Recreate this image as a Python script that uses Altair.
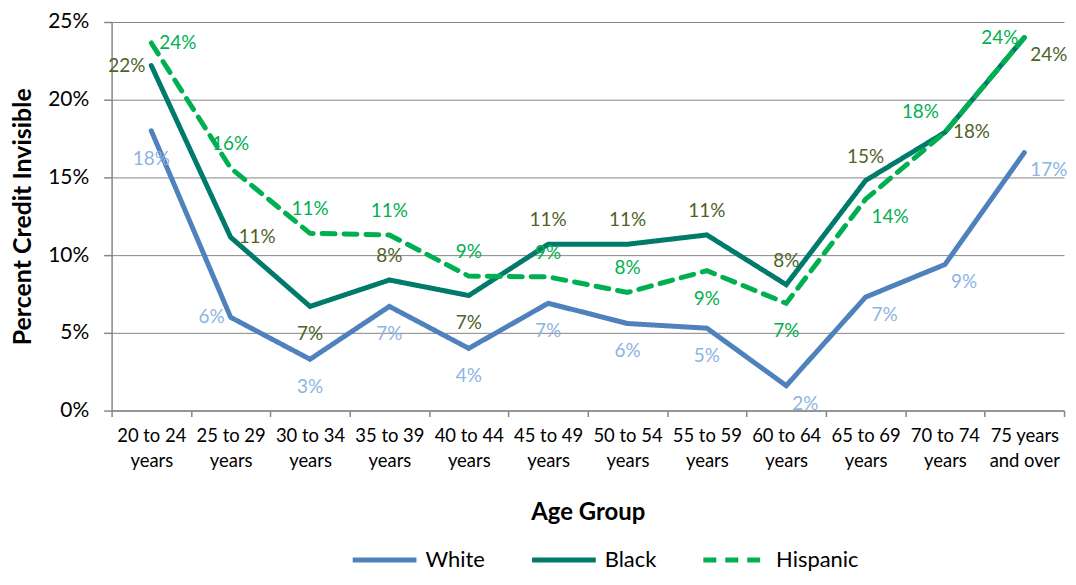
import altair as alt
import pandas as pd

categories = ["20 to 24 years", "25 to 29 years", "30 to 34 years", "35 to 39 years",
              "40 to 44 years", "45 to 49 years", "50 to 54 years", "55 to 59 years",
              "60 to 64 years", "65 to 69 years", "70 to 74 years", "75 years and over"]
series = ["White", "Black", "Hispanic"]
white = [18.0, 6.0, 3.3, 6.7, 4.0, 6.9, 5.6, 5.3, 1.6, 7.3, 9.4, 16.6]
black = [22.2, 11.15, 6.7, 8.4, 7.4, 10.7, 10.7, 11.3, 8.1, 14.8, 17.9, 24.0]
hispanic = [23.65, 15.6, 11.4, 11.3, 8.65, 8.6, 7.6, 9.0, 6.9, 13.6, 17.9, 24.0]

# data-label placement (style, like Excel's label position setting)
white_pos = ["below", "left", "below", "below", "below", "below", "below", "below",
             "belowright", "belowright", "belowright", "belowright"]
black_pos = ["left", "right", "below", "above", "below", "above", "above", "above",
             "above", "above", "right", "belowright"]
hispanic_pos = ["right", "above", "above", "above", "above", "above", "above", "below",
                "below", "belowright", "aboveleft", "left"]

rows = []
for name, vals, pos in zip(series, [white, black, hispanic], [white_pos, black_pos, hispanic_pos]):
    for c, v, p in zip(categories, vals, pos):
        rows.append({"age": c, "group": name, "value": v, "pos": p})
df = pd.DataFrame(rows)

line_colors = ["#4F81BD", "#007A6A", "#00B050"]
label_colors = ["#8DB4E2", "#4F6228", "#00B050"]
FONT = "Lato"

x_enc = alt.X("age:N", sort=categories, bandPosition=0.5,
              scale=alt.Scale(type="band", paddingInner=0, paddingOuter=0),
              axis=alt.Axis(title="Age Group", labelAngle=0, tickBand="extent",
                            labelExpr="isValid(datum.value) ? (datum.value == '75 years and over' ? ['75 years', 'and over'] : [replace(datum.value, ' years', ''), 'years']) : ''",
                            labelFontSize=18.5, labelLineHeight=25, labelPadding=10,
                            tickSize=6, titleFontSize=24, titleFontWeight="bold",
                            titlePadding=31, grid=False, labelColor="#000000"))
y_enc = alt.Y("value:Q", scale=alt.Scale(domain=[0, 25], nice=False),
              axis=alt.Axis(title="Percent Credit Invisible", values=[0, 5, 10, 15, 20, 25],
                            labelExpr="datum.value + '%'", labelFontSize=21, labelPadding=15,
                            tickSize=8, titleFontSize=25, titleFontWeight="bold",
                            titlePadding=12, grid=True, gridColor="#868686",
                            labelColor="#000000"))

lines = alt.Chart(df).mark_line(strokeWidth=5, strokeCap="round").encode(
    x=x_enc, y=y_enc,
    color=alt.Color("group:N", sort=series,
                    scale=alt.Scale(domain=series, range=line_colors),
                    legend=alt.Legend(title=None, orient="none", direction="horizontal",
                                      legendX=239, legendY=505, gridAlign="none",
                                      symbolType="stroke", symbolSize=4100,
                                      symbolStrokeWidth=5, labelFontSize=22,
                                      columnPadding=36, labelOffset=6,
                                      labelColor="#000000")),
    strokeDash=alt.StrokeDash("group:N", sort=series,
                              scale=alt.Scale(domain=series, range=[[1, 0], [1, 0], [13, 9]]),
                              legend=None),
)

offsets = {"above": (0, -24, "center"), "below": (0, 28, "center"),
           "left": (-6, 0, "right"), "right": (8, 0, "left"),
           "belowright": (6, 18, "left"), "aboveleft": (-6, -20, "right")}
texts = []
for p, (dx, dy, al) in offsets.items():
    texts.append(
        alt.Chart(df).transform_filter(alt.datum.pos == p)
        .transform_calculate(label="format(datum.value, '.0f') + '%'")
        .mark_text(fontSize=19, dx=dx, dy=dy, align=al, font=FONT)
        .encode(x=alt.X("age:N", sort=categories, bandPosition=0.5),
                y="value:Q", text="label:N",
                fill=alt.Fill("group:N", scale=alt.Scale(domain=series, range=label_colors),
                              legend=None))
    )

chart = alt.layer(lines, *texts).properties(
    width=956, height=390,
    padding={"left": 2, "top": 2, "right": 0, "bottom": 0},
).configure(background="white", font=FONT).configure_view(stroke=None).configure_axis(
    domainColor="#868686", tickColor="#868686", labelFont=FONT, titleFont=FONT,
    domainWidth=1.5, tickWidth=1.5,
).configure_legend(labelFont=FONT)

chart.save("out.html", embed_options={"renderer": "svg", "actions": False})
